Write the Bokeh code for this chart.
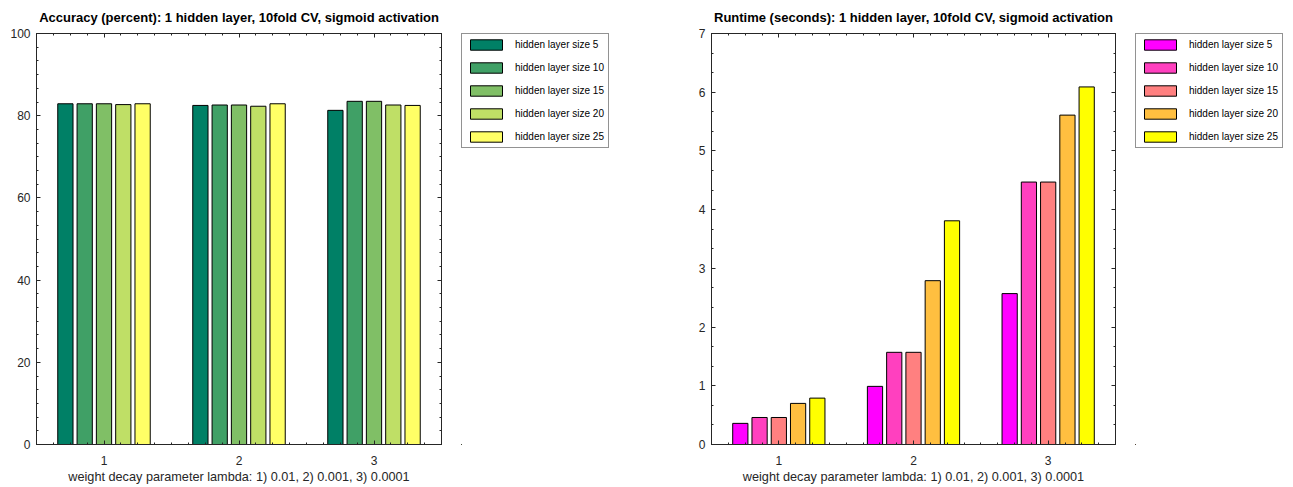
from bokeh.plotting import figure
from bokeh.models import (Range1d, LinearAxis, SingleIntervalTicker, Legend, LegendItem,
                          ColumnDataSource, CustomJSTickFormatter)
from bokeh.transform import dodge
from bokeh.layouts import row
from bokeh.embed import file_html
from bokeh.resources import INLINE

# ---------------- data ----------------
groups = [1, 2, 3]
series_labels = ["hidden layer size 5", "hidden layer size 10", "hidden layer size 15",
                 "hidden layer size 20", "hidden layer size 25"]

acc_h5 = [82.9, 82.5, 81.3]
acc_h10 = [82.9, 82.6, 83.5]
acc_h15 = [82.9, 82.6, 83.5]
acc_h20 = [82.7, 82.3, 82.6]
acc_h25 = [82.9, 82.9, 82.5]

rt_h5 = [0.36, 0.99, 2.57]
rt_h10 = [0.46, 1.57, 4.47]
rt_h15 = [0.46, 1.57, 4.47]
rt_h20 = [0.70, 2.79, 5.61]
rt_h25 = [0.79, 3.81, 6.09]

acc_title = "Accuracy (percent): 1 hidden layer, 10fold CV, sigmoid activation"
rt_title = "Runtime (seconds): 1 hidden layer, 10fold CV, sigmoid activation"
x_label = "weight decay parameter lambda: 1) 0.01, 2) 0.001, 3) 0.0001"

summer = ["#008066", "#40A066", "#80BF66", "#BFDF66", "#FFFF66"]
spring = ["#FF00FF", "#FF40BF", "#FF8080", "#FFBF40", "#FFFF00"]

FONT = "Liberation Sans"
AX = "#262626"
FIG_H = 486


def empty_fmt():
    return CustomJSTickFormatter(code="return ''")


def style_axis(ax):
    ax.axis_line_color = AX
    ax.major_tick_line_color = AX
    ax.minor_tick_line_color = AX
    ax.major_tick_in = 4
    ax.major_tick_out = 0
    ax.minor_tick_in = 2
    ax.minor_tick_out = 0
    ax.major_label_text_font = FONT
    ax.major_label_text_font_size = "12px"
    ax.major_label_text_color = AX
    ax.axis_label_text_font = FONT
    ax.axis_label_text_font_size = "12.7px"
    ax.axis_label_text_font_style = "normal"
    ax.axis_label_text_color = AX


def make_chart(title, series, colors, ymax, yint, yminor, width, mb_left, mb_right):
    p = figure(width=width, height=FIG_H,
               x_range=Range1d(0.5, 3.5), y_range=Range1d(0, ymax),
               output_backend="svg", toolbar_location=None, title=title,
               min_border_left=mb_left, min_border_right=mb_right,
               min_border_top=33, min_border_bottom=39)
    p.xgrid.visible = False
    p.ygrid.visible = False
    p.outline_line_color = AX
    p.outline_line_width = 1
    p.title.text_font = FONT
    p.title.text_font_size = "13px"
    p.title.text_font_style = "bold"
    p.title.text_color = "#000000"
    p.title.align = "center"
    p.title.vertical_align = "top"
    p.title.standoff = 14

    xt = SingleIntervalTicker(interval=1, num_minor_ticks=8)
    yt = SingleIntervalTicker(interval=yint, num_minor_ticks=yminor)
    p.xaxis.ticker = xt
    p.yaxis.ticker = yt
    p.xaxis.axis_label = x_label
    for ax in p.xaxis:
        style_axis(ax)
        ax.major_label_standoff = 11
        ax.axis_label_standoff = 2
    for ax in p.yaxis:
        style_axis(ax)
        ax.major_label_standoff = 6

    data = {"group": groups}
    for i, s in enumerate(series):
        data["s%d" % i] = s
    src = ColumnDataSource(data)

    n = len(series)
    for i in range(n):
        off = (i - (n - 1) / 2) * 0.143
        p.vbar(x=dodge("group", off, range=p.x_range), top="s%d" % i, width=0.113,
               bottom=0, source=src, fill_color=colors[i], line_color="#000000",
               line_width=1)

    top_ax = LinearAxis(ticker=xt, formatter=empty_fmt())
    style_axis(top_ax)
    top_ax.major_label_standoff = 0
    top_ax.major_label_text_font_size = "0px"
    p.add_layout(top_ax, "above")

    right_ax = LinearAxis(ticker=yt, formatter=empty_fmt())
    style_axis(right_ax)
    right_ax.major_label_standoff = 0
    right_ax.major_label_text_font_size = "0px"
    p.add_layout(right_ax, "right")
    return p


def make_legend(colors, width):
    # separate panel holding only the legend (keys use placeholder renderers
    # that lie outside the visible range)
    q = figure(width=width, height=FIG_H, x_range=Range1d(0, 1), y_range=Range1d(0, 1),
               output_backend="svg", toolbar_location=None,
               x_axis_type=None, y_axis_type=None,
               min_border_left=10, min_border_right=0, min_border_top=30,
               min_border_bottom=0)
    q.xgrid.visible = False
    q.ygrid.visible = False
    q.outline_line_color = None
    items = []
    for i, lab in enumerate(series_labels):
        key_src = ColumnDataSource(dict(x=[-5], top=[-5], bottom=[-6]))
        r = q.vbar(x="x", top="top", bottom="bottom", width=0.1, source=key_src,
                   fill_color=colors[i], line_color="#000000", line_width=1)
        items.append(LegendItem(label=lab, renderers=[r]))
    leg = Legend(items=items, location="top_left",
                 orientation="vertical",
                 glyph_width=40, glyph_height=13, label_height=13, spacing=10,
                 padding=4, margin=0, label_standoff=9,
                 label_text_font=FONT, label_text_font_size="10px",
                 label_text_color="#000000",
                 border_line_color=AX, border_line_width=1,
                 background_fill_color="#ffffff", background_fill_alpha=1)
    q.add_layout(leg, "center")
    return q


left = make_chart(acc_title, [acc_h5, acc_h10, acc_h15, acc_h20, acc_h25], summer,
                  100, 20, 6, 451, 36, 10)
left_leg = make_legend(summer, 195)
right = make_chart(rt_title, [rt_h5, rt_h10, rt_h15, rt_h20, rt_h25], spring,
                   7, 1, 3, 479, 65, 10)
right_leg = make_legend(spring, 166)

layout = row(left, left_leg, right, right_leg)
open("out.html", "w").write(file_html(layout, INLINE))
